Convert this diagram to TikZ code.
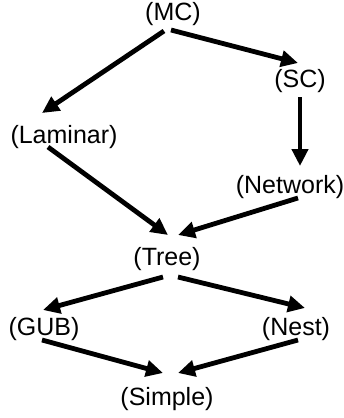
\documentclass[tikz,border=0pt]{standalone}
\usepackage{fontspec}
\setmainfont{Liberation Sans}
\usetikzlibrary{arrows.meta}
\begin{document}
\begin{tikzpicture}[x=1pt,y=-1pt,
  lbl/.style={anchor=base,inner sep=0pt,font=\fontsize{25}{29}\selectfont},
  arr/.style={line width=4.8pt,-{Triangle[length=17pt,width=16pt]}}]
\useasboundingbox (0,0) rectangle (344,418);
\node[lbl] (MC) at (173,20) {(MC)};
\node[lbl] (SC) at (300,87) {(SC)};
\node[lbl] (Lam) at (64,143) {(Laminar)};
\node[lbl] (Net) at (290,193) {(Network)};
\node[lbl] (Tree) at (167,265) {(Tree)};
\node[lbl] (GUB) at (44,335) {(GUB)};
\node[lbl] (Nest) at (296,335) {(Nest)};
\node[lbl] (Simple) at (167,405) {(Simple)};
\draw[arr] ([shift={(-2,10)}]MC.base) -- ([shift={(-2,-24)}]SC.base);
\draw[arr] ([shift={(-9,11)}]MC.base) -- ([shift={(-22,-30)}]Lam.base);
\draw[arr] ([shift={(0,10)}]SC.base) -- ([shift={(10,-27)}]Net.base);
\draw[arr] ([shift={(-16,4)}]Lam.base) -- ([shift={(1,-30)}]Tree.base);
\draw[arr] ([shift={(8,5)}]Net.base) -- ([shift={(11,-30)}]Tree.base);
\draw[arr] ([shift={(-4,12)}]Tree.base) -- ([shift={(-1,-25)}]GUB.base);
\draw[arr] ([shift={(11,12)}]Tree.base) -- ([shift={(9,-27)}]Nest.base);
\draw[arr] ([shift={(-2,5)}]GUB.base) -- ([shift={(-4,-32)}]Simple.base);
\draw[arr] ([shift={(2,5)}]Nest.base) -- ([shift={(11,-32)}]Simple.base);
\end{tikzpicture}
\end{document}
